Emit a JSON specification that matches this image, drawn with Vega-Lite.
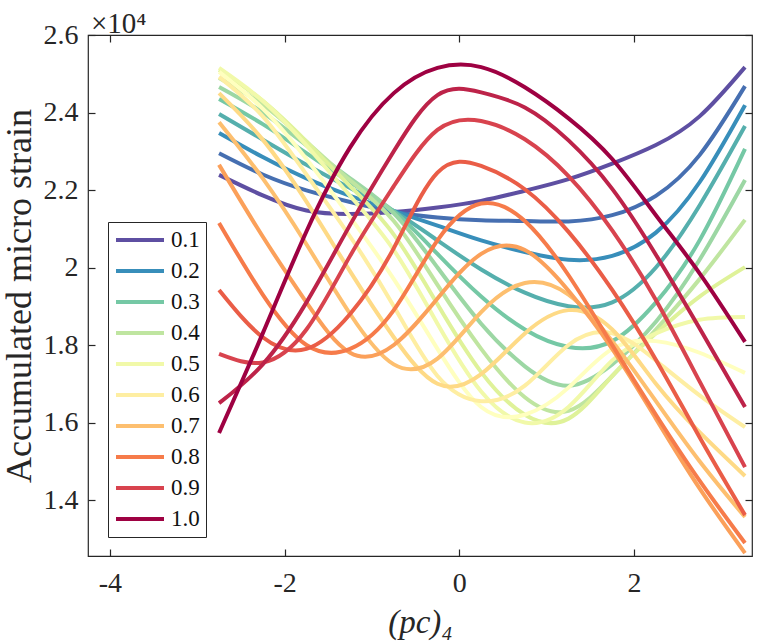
{
  "$schema": "https://vega.github.io/schema/vega-lite/v6.json",
  "width": 664,
  "height": 521,
  "autosize": {"type": "none"},
  "padding": {"left": 88, "top": 35, "right": 17, "bottom": 85},
  "background": "white",
  "config": {"view": {"stroke": "#262626", "strokeWidth": 1.2}, "font": "Liberation Serif"},
  "title": {"text": "×10⁴", "anchor": "start", "frame": "group", "fontSize": 29, "font": "Liberation Serif", "fontWeight": "normal", "offset": 4, "dy": 22, "dx": 3, "color": "#262626"},
  "datasets": {
    "curves": [
      {"s":1,"x":-2.75,"y":22390},{"s":1,"x":-2.25,"y":21860},{"s":1,"x":-1.75,"y":21470},{"s":1,"x":-1.25,"y":21380},{"s":1,"x":-0.75,"y":21430},{"s":1,"x":-0.25,"y":21550},{"s":1,"x":0.25,"y":21720},{"s":1,"x":0.75,"y":21980},{"s":1,"x":1.25,"y":22280},{"s":1,"x":1.75,"y":22680},{"s":1,"x":2.25,"y":23160},{"s":1,"x":2.75,"y":23900},{"s":1,"x":3.27,"y":25170},
      {"s":2,"x":-2.75,"y":22950},{"s":2,"x":-2.25,"y":22400},{"s":2,"x":-1.75,"y":21990},{"s":2,"x":-1.25,"y":21690},{"s":2,"x":-0.75,"y":21440},{"s":2,"x":-0.25,"y":21290},{"s":2,"x":0.25,"y":21220},{"s":2,"x":0.75,"y":21200},{"s":2,"x":1.25,"y":21190},{"s":2,"x":1.75,"y":21350},{"s":2,"x":2.25,"y":21850},{"s":2,"x":2.75,"y":22900},{"s":2,"x":3.27,"y":24680},
      {"s":3,"x":-2.75,"y":23470},{"s":3,"x":-2.25,"y":22850},{"s":3,"x":-1.75,"y":22300},{"s":3,"x":-1.25,"y":21850},{"s":3,"x":-0.75,"y":21460},{"s":3,"x":-0.25,"y":21080},{"s":3,"x":0.25,"y":20700},{"s":3,"x":0.75,"y":20400},{"s":3,"x":1.25,"y":20200},{"s":3,"x":1.75,"y":20300},{"s":3,"x":2.25,"y":20900},{"s":3,"x":2.75,"y":22200},{"s":3,"x":3.27,"y":24190},
      {"s":4,"x":-2.75,"y":23960},{"s":4,"x":-2.25,"y":23300},{"s":4,"x":-1.75,"y":22650},{"s":4,"x":-1.25,"y":22050},{"s":4,"x":-0.75,"y":21450},{"s":4,"x":-0.25,"y":20700},{"s":4,"x":0.25,"y":19950},{"s":4,"x":0.75,"y":19350},{"s":4,"x":1.25,"y":19000},{"s":4,"x":1.75,"y":19100},{"s":4,"x":2.25,"y":20000},{"s":4,"x":2.75,"y":21600},{"s":4,"x":3.27,"y":23650},
      {"s":5,"x":-2.75,"y":24350},{"s":5,"x":-2.25,"y":23700},{"s":5,"x":-1.75,"y":22950},{"s":5,"x":-1.25,"y":22200},{"s":5,"x":-0.75,"y":21450},{"s":5,"x":-0.25,"y":20350},{"s":5,"x":0.25,"y":19250},{"s":5,"x":0.75,"y":18400},{"s":5,"x":1.25,"y":17950},{"s":5,"x":1.75,"y":18100},{"s":5,"x":2.25,"y":19100},{"s":5,"x":2.75,"y":20700},{"s":5,"x":3.27,"y":23060},
      {"s":6,"x":-2.75,"y":24660},{"s":6,"x":-2.25,"y":24000},{"s":6,"x":-1.75,"y":23150},{"s":6,"x":-1.25,"y":22300},{"s":6,"x":-0.75,"y":21400},{"s":6,"x":-0.25,"y":20000},{"s":6,"x":0.25,"y":18550},{"s":6,"x":0.75,"y":17450},{"s":6,"x":1.25,"y":16950},{"s":6,"x":1.75,"y":17500},{"s":6,"x":2.25,"y":18600},{"s":6,"x":2.75,"y":20200},{"s":6,"x":3.27,"y":22260},
      {"s":7,"x":-2.75,"y":24890},{"s":7,"x":-2.25,"y":24200},{"s":7,"x":-1.75,"y":23250},{"s":7,"x":-1.25,"y":22250},{"s":7,"x":-0.75,"y":21200},{"s":7,"x":-0.25,"y":19550},{"s":7,"x":0.25,"y":17900},{"s":7,"x":0.75,"y":16650},{"s":7,"x":1.25,"y":16300},{"s":7,"x":1.75,"y":17200},{"s":7,"x":2.25,"y":18400},{"s":7,"x":2.75,"y":19700},{"s":7,"x":3.27,"y":21230},
      {"s":8,"x":-2.75,"y":25100},{"s":8,"x":-2.25,"y":24300},{"s":8,"x":-1.75,"y":23250},{"s":8,"x":-1.25,"y":22100},{"s":8,"x":-0.75,"y":20850},{"s":8,"x":-0.25,"y":19050},{"s":8,"x":0.25,"y":17300},{"s":8,"x":0.75,"y":16200},{"s":8,"x":1.25,"y":16100},{"s":8,"x":1.75,"y":17200},{"s":8,"x":2.25,"y":18300},{"s":8,"x":2.75,"y":19250},{"s":8,"x":3.27,"y":20010},
      {"s":9,"x":-2.75,"y":25150},{"s":9,"x":-2.25,"y":24300},{"s":9,"x":-1.75,"y":23150},{"s":9,"x":-1.25,"y":21850},{"s":9,"x":-0.75,"y":20450},{"s":9,"x":-0.25,"y":18550},{"s":9,"x":0.25,"y":16800},{"s":9,"x":0.75,"y":16000},{"s":9,"x":1.25,"y":16400},{"s":9,"x":1.75,"y":17600},{"s":9,"x":2.25,"y":18300},{"s":9,"x":2.75,"y":18650},{"s":9,"x":3.27,"y":18720},
      {"s":10,"x":-2.75,"y":25050},{"s":10,"x":-2.25,"y":24100},{"s":10,"x":-1.75,"y":22800},{"s":10,"x":-1.25,"y":21300},{"s":10,"x":-0.75,"y":19700},{"s":10,"x":-0.25,"y":17900},{"s":10,"x":0.25,"y":16400},{"s":10,"x":0.75,"y":16200},{"s":10,"x":1.25,"y":16900},{"s":10,"x":1.75,"y":17900},{"s":10,"x":2.25,"y":18100},{"s":10,"x":2.75,"y":17800},{"s":10,"x":3.27,"y":17280},
      {"s":11,"x":-2.75,"y":24920},{"s":11,"x":-2.25,"y":23900},{"s":11,"x":-1.75,"y":22400},{"s":11,"x":-1.25,"y":20800},{"s":11,"x":-0.75,"y":19000},{"s":11,"x":-0.25,"y":17200},{"s":11,"x":0.25,"y":16550},{"s":11,"x":0.75,"y":16950},{"s":11,"x":1.25,"y":18000},{"s":11,"x":1.75,"y":18300},{"s":11,"x":2.25,"y":17600},{"s":11,"x":2.75,"y":16700},{"s":11,"x":3.27,"y":15880},
      {"s":12,"x":-2.75,"y":24500},{"s":12,"x":-2.25,"y":23300},{"s":12,"x":-1.75,"y":21700},{"s":12,"x":-1.25,"y":19900},{"s":12,"x":-0.75,"y":18200},{"s":12,"x":-0.25,"y":17000},{"s":12,"x":0.25,"y":17250},{"s":12,"x":0.75,"y":18300},{"s":12,"x":1.25,"y":18900},{"s":12,"x":1.75,"y":18400},{"s":12,"x":2.25,"y":17000},{"s":12,"x":2.75,"y":15750},{"s":12,"x":3.27,"y":14620},
      {"s":13,"x":-2.75,"y":23750},{"s":13,"x":-2.25,"y":22300},{"s":13,"x":-1.75,"y":20600},{"s":13,"x":-1.25,"y":18800},{"s":13,"x":-0.75,"y":17500},{"s":13,"x":-0.25,"y":17650},{"s":13,"x":0.25,"y":18850},{"s":13,"x":0.75,"y":19600},{"s":13,"x":1.25,"y":19300},{"s":13,"x":1.75,"y":18100},{"s":13,"x":2.25,"y":16550},{"s":13,"x":2.75,"y":15000},{"s":13,"x":3.27,"y":13560},
      {"s":14,"x":-2.75,"y":22650},{"s":14,"x":-2.25,"y":20800},{"s":14,"x":-1.75,"y":19100},{"s":14,"x":-1.25,"y":17800},{"s":14,"x":-0.75,"y":18000},{"s":14,"x":-0.25,"y":19200},{"s":14,"x":0.25,"y":20350},{"s":14,"x":0.75,"y":20450},{"s":14,"x":1.25,"y":19400},{"s":14,"x":1.75,"y":17900},{"s":14,"x":2.25,"y":16100},{"s":14,"x":2.75,"y":14300},{"s":14,"x":3.27,"y":12630},
      {"s":15,"x":-2.75,"y":21150},{"s":15,"x":-2.25,"y":19300},{"s":15,"x":-1.75,"y":18000},{"s":15,"x":-1.25,"y":17900},{"s":15,"x":-0.75,"y":18900},{"s":15,"x":-0.25,"y":20700},{"s":15,"x":0.25,"y":21650},{"s":15,"x":0.75,"y":21200},{"s":15,"x":1.25,"y":19800},{"s":15,"x":1.75,"y":18000},{"s":15,"x":2.25,"y":16200},{"s":15,"x":2.75,"y":14500},{"s":15,"x":3.27,"y":12890},
      {"s":16,"x":-2.75,"y":19420},{"s":16,"x":-2.25,"y":18200},{"s":16,"x":-1.75,"y":17900},{"s":16,"x":-1.25,"y":18800},{"s":16,"x":-0.75,"y":20500},{"s":16,"x":-0.25,"y":22450},{"s":16,"x":0.25,"y":22620},{"s":16,"x":0.75,"y":22020},{"s":16,"x":1.25,"y":20920},{"s":16,"x":1.75,"y":19420},{"s":16,"x":2.25,"y":17620},{"s":16,"x":2.75,"y":15620},{"s":16,"x":3.27,"y":13610},
      {"s":17,"x":-2.75,"y":17770},{"s":17,"x":-2.25,"y":17550},{"s":17,"x":-1.75,"y":18400},{"s":17,"x":-1.25,"y":20300},{"s":17,"x":-0.75,"y":22100},{"s":17,"x":-0.25,"y":23550},{"s":17,"x":0.25,"y":23780},{"s":17,"x":0.75,"y":23310},{"s":17,"x":1.25,"y":22360},{"s":17,"x":1.75,"y":20960},{"s":17,"x":2.25,"y":19160},{"s":17,"x":2.75,"y":17060},{"s":17,"x":3.27,"y":14850},
      {"s":18,"x":-2.75,"y":16500},{"s":18,"x":-2.25,"y":17500},{"s":18,"x":-1.75,"y":19100},{"s":18,"x":-1.25,"y":21100},{"s":18,"x":-0.75,"y":23000},{"s":18,"x":-0.25,"y":24450},{"s":18,"x":0.25,"y":24520},{"s":18,"x":0.75,"y":24130},{"s":18,"x":1.25,"y":23280},{"s":18,"x":1.75,"y":22030},{"s":18,"x":2.25,"y":20330},{"s":18,"x":2.75,"y":18430},{"s":18,"x":3.27,"y":16400},
      {"s":19,"x":-2.75,"y":15730},{"s":19,"x":-2.25,"y":18300},{"s":19,"x":-1.75,"y":20930},{"s":19,"x":-1.25,"y":23100},{"s":19,"x":-0.75,"y":24500},{"s":19,"x":-0.25,"y":25150},{"s":19,"x":0.25,"y":25170},{"s":19,"x":0.75,"y":24650},{"s":19,"x":1.25,"y":23850},{"s":19,"x":1.75,"y":22800},{"s":19,"x":2.25,"y":21350},{"s":19,"x":2.75,"y":19850},{"s":19,"x":3.27,"y":18080}
    ]
  },
  "data": {"name": "curves"},
  "layer": [
    {
      "mark": {"type": "line", "strokeWidth": 4, "interpolate": "natural", "clip": true},
      "encoding": {
        "x": {"field": "x", "type": "quantitative", "scale": {"domain": [-4.25, 3.35], "nice": false, "zero": false},
              "axis": {"orient": "bottom", "values": [-4, -2, 0, 2], "labelExpr": "datum.value < 0 ? '-' + abs(datum.value) : '' + datum.value", "domain": false, "grid": false, "tickSize": -7, "tickColor": "#262626", "tickWidth": 1.2, "labelPadding": 20, "labelFontSize": 28, "labelFont": "Liberation Serif", "labelColor": "#262626", "labelFlush": false,
                       "title": "(pc)₄", "titleFont": "Liberation Serif", "titleFontStyle": "italic", "titleFontWeight": "normal", "titleFontSize": 33, "titleColor": "#262626", "titlePadding": 9}},
        "y": {"field": "y", "type": "quantitative", "scale": {"domain": [12555, 26000], "nice": false, "zero": false},
              "axis": {"orient": "left", "values": [14000, 16000, 18000, 20000, 22000, 24000, 26000], "labelExpr": "format(datum.value/10000, '.1~f')", "domain": false, "grid": false, "tickSize": -7, "tickColor": "#262626", "tickWidth": 1.2, "labelPadding": 17, "labelFontSize": 28, "labelFont": "Liberation Serif", "labelColor": "#262626", "labelFlush": false,
                       "title": "Accumulated micro strain", "titleFont": "Liberation Serif", "titleFontWeight": "normal", "titleFontSize": 36, "titleColor": "#262626", "titlePadding": 5}},
        "color": {"field": "s", "type": "ordinal",
                  "scale": {"domain": [1,2,3,4,5,6,7,8,9,10,11,12,13,14,15,16,17,18,19],
                            "range": ["#5e4fa2","#466fb1","#388eba","#55afad","#75c8a5","#9cd7a4","#bfe5a0","#dff299","#f1f9a9","#ffffbf","#feeea2","#feda86","#fdbf6f","#fba05a","#f67b4a","#ea5d47","#d8434e","#bd2349","#9e0142"]},
                  "legend": {"orient": "none", "legendX": 20, "legendY": 187, "values": [1,3,5,7,9,11,13,15,17,19], "labelExpr": "format(0.05*(datum.value+1), '.1f')", "title": null,
                             "symbolType": "stroke", "symbolSize": 2304, "symbolStrokeWidth": 4, "clipHeight": 24, "labelFontSize": 23, "labelFont": "Liberation Serif", "labelColor": "#111111", "labelOffset": 5,
                             "strokeColor": "#262626", "fillColor": "white", "padding": 6, "rowPadding": 7}}
      }
    },
    {
      "mark": {"type": "line", "opacity": 0},
      "encoding": {
        "x": {"field": "x", "type": "quantitative", "axis": {"orient": "top", "values": [-4, -2, 0, 2], "labels": false, "domain": false, "grid": false, "tickSize": -7, "tickColor": "#262626", "tickWidth": 1.2, "title": null, "minExtent": 0, "maxExtent": 0}},
        "y": {"field": "y", "type": "quantitative", "axis": {"orient": "right", "values": [14000, 16000, 18000, 20000, 22000, 24000, 26000], "labels": false, "domain": false, "grid": false, "tickSize": -7, "tickColor": "#262626", "tickWidth": 1.2, "title": null, "minExtent": 0, "maxExtent": 0}}
      }
    }
  ],
  "resolve": {"axis": {"x": "independent", "y": "independent"}}
}
